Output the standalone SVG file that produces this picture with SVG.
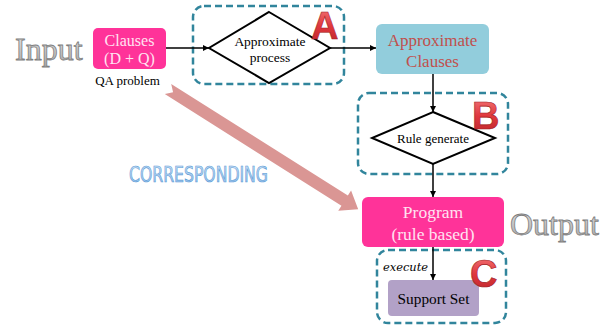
<svg xmlns="http://www.w3.org/2000/svg" width="613" height="327" viewBox="0 0 613 327">
<defs>
<marker id="arr" viewBox="0 0 10 10" refX="10" refY="5" markerWidth="6" markerHeight="6" markerUnits="userSpaceOnUse" orient="auto">
<path d="M0,0 L10,5 L0,10 Z" fill="#000"/>
</marker>
<linearGradient id="red" x1="0" y1="0" x2="0" y2="1">
<stop offset="0" stop-color="#F47A7C"/>
<stop offset="0.5" stop-color="#E0383D"/>
<stop offset="1" stop-color="#B8242A"/>
</linearGradient>
<linearGradient id="gray" x1="0" y1="0" x2="0" y2="1">
<stop offset="0" stop-color="#E6E6E6"/>
<stop offset="1" stop-color="#A6A6A6"/>
</linearGradient>
<linearGradient id="blue" x1="0" y1="0" x2="0" y2="1">
<stop offset="0" stop-color="#CFE3F7"/>
<stop offset="1" stop-color="#8CBBEA"/>
</linearGradient>
</defs>
<style>
.dash{fill:none;stroke:#31859C;stroke-width:2.5;stroke-dasharray:7,4}
.conn{stroke:#000;stroke-width:1.5;fill:none}
.dia{fill:#fff;stroke:#000;stroke-width:2}
.serif{font-family:"Liberation Serif","Times New Roman",serif}
.letter{font-family:"Liberation Sans",Arial,sans-serif;font-weight:bold;font-size:38px;fill:url(#red);stroke:#A01E22;stroke-width:0.6}
.big{font-family:"Liberation Serif","Times New Roman",serif;font-size:32px;fill:url(#gray);stroke:#7F7F7F;stroke-width:0.8}
</style>

<g id="input-label"><text class="big" x="15" y="60">Input</text></g>
<g id="output-label"><text class="big" x="510" y="235">Output</text></g>

<g id="corresponding-arrow">
<path transform="translate(168,89) rotate(32.3)" d="M0,-6 L209,-6 L209,-12 L225,0 L209,12 L209,6 L0,6 L6,0 Z" fill="#DA9694"/>
</g>
<g id="corresponding-label">
<text x="129" y="182" font-family="'DejaVu Sans',sans-serif" font-size="21" fill="url(#blue)" stroke="#5B9BD5" stroke-width="0.7" textLength="139" lengthAdjust="spacingAndGlyphs">CORRESPONDING</text>
</g>

<g id="group-A"><rect class="dash" x="193" y="6" width="151" height="78" rx="11"/></g>
<g id="group-B"><rect class="dash" x="358" y="93" width="150" height="81" rx="11"/></g>
<g id="group-C"><rect class="dash" x="377" y="250" width="129" height="73" rx="11"/></g>

<g id="connectors">
<line class="conn" x1="166" y1="48" x2="209" y2="48" marker-end="url(#arr)"/>
<line class="conn" x1="330" y1="48" x2="376" y2="48" marker-end="url(#arr)"/>
<line class="conn" x1="433" y1="74" x2="433" y2="112" marker-end="url(#arr)"/>
<line class="conn" x1="433" y1="164" x2="433" y2="197" marker-end="url(#arr)"/>
<line class="conn" x1="433" y1="247" x2="433" y2="280" marker-end="url(#arr)"/>
<text x="383" y="271" font-family="'DejaVu Serif',serif" font-style="italic" font-size="11" fill="#000" textLength="45" lengthAdjust="spacingAndGlyphs">execute</text>
</g>

<g id="clauses">
<rect x="93" y="28" width="73" height="41" rx="5" fill="#FF3399"/>
<text class="serif" x="129.5" y="46" font-size="16" fill="#FFE3F1" text-anchor="middle">Clauses</text>
<text class="serif" x="129.5" y="64" font-size="16" fill="#FFE3F1" text-anchor="middle">(D + Q)</text>
<text class="serif" x="127.5" y="85" font-size="13" fill="#000" text-anchor="middle">QA problem</text>
</g>

<g id="approximate-process">
<polygon class="dia" points="269,12 330,48 269,83 209,48"/>
<text class="serif" x="270" y="46" font-size="13.5" fill="#000" text-anchor="middle">Approximate</text>
<text class="serif" x="270" y="62" font-size="13.5" fill="#000" text-anchor="middle">process</text>
</g>

<g id="approximate-clauses">
<rect x="376" y="24" width="113" height="50" rx="6" fill="#92CDDC"/>
<text class="serif" x="432.5" y="46" font-size="17" fill="#C0504D" text-anchor="middle">Approximate</text>
<text class="serif" x="432.5" y="67" font-size="17" fill="#C0504D" text-anchor="middle">Clauses</text>
</g>

<g id="rule-generate">
<polygon class="dia" points="433,112 495,138 433,164 372,138"/>
<text class="serif" x="433" y="143" font-size="13" fill="#000" text-anchor="middle">Rule generate</text>
</g>

<g id="program">
<rect x="362" y="197" width="142" height="50" rx="6" fill="#FF3399"/>
<text class="serif" x="433" y="218" font-size="17.5" fill="#FFE3F1" text-anchor="middle">Program</text>
<text class="serif" x="433" y="240" font-size="17.5" fill="#FFE3F1" text-anchor="middle">(rule based)</text>
</g>

<g id="support-set">
<rect x="388" y="280" width="91" height="36" rx="4" fill="#B2A1C7"/>
<text class="serif" x="433.5" y="304" font-size="15.3" fill="#000" text-anchor="middle">Support Set</text>
</g>

<g id="labels">
<text class="letter" x="311" y="39">A</text>
<text class="letter" x="472" y="129">B</text>
<text class="letter" x="470" y="287">C</text>
</g>
</svg>
